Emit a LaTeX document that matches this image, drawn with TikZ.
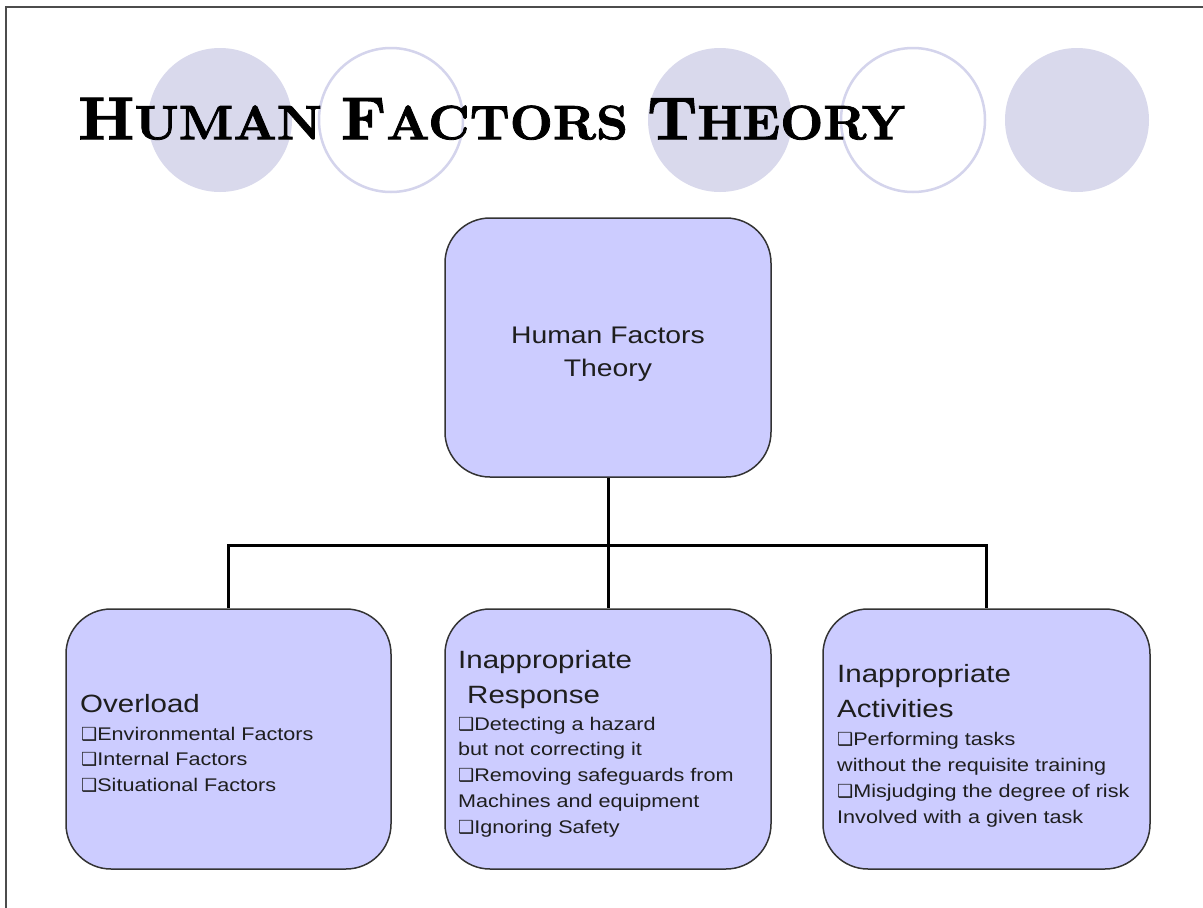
\documentclass[tikz,border=0pt]{standalone}
\usepackage{fontspec}
\usepackage{graphicx}
\newfontfamily\boxfont[FakeStretch=1.18]{Liberation Sans}
\newfontfamily\dejavu{DejaVu Sans}
\newfontfamily\titlefont[FakeBold=1.6]{lmroman10-bold.otf}
\definecolor{boxfill}{RGB}{204,204,255}
\definecolor{circfill}{RGB}{217,217,236}
\definecolor{circline}{RGB}{212,212,236}
\definecolor{txtcol}{RGB}{30,30,30}
\newcommand{\bul}{{\dejavu\fontsize{18}{18}\selectfont ❑}}
\tikzset{
  box/.style={draw=black!80, line width=1.5pt, fill=boxfill, rounded corners=45pt, inner sep=0pt},
  conn/.style={line width=3pt, black},
  txt/.style={inner sep=0pt, text=txtcol, font=\boxfont},
  frame/.style={line width=1.5pt, black!70},
  fcirc/.style={fill=circfill},
  ocirc/.style={draw=circline, line width=2.5pt, fill=white}
}
\begin{document}
\begin{tikzpicture}[x=1pt,y=-1pt]
\useasboundingbox (0,0) rectangle (1203,908);
\fill[white] (0,0) rectangle (1203,908);
\draw[frame] (6,908) -- (6,7) -- (1203,7);
% decorative circles
\fill[fcirc] (220,120) circle (72pt);
\draw[ocirc] (391,120) circle (72pt);
\fill[fcirc] (720,120) circle (72pt);
\draw[ocirc] (913,120) circle (72pt);
\fill[fcirc] (1077,120) circle (72pt);
% title
\node[anchor=south west, inner sep=0pt] (title) at (78,140)
  {\resizebox*{827pt}{42pt}{\titlefont{\fontsize{50}{50}\selectfont H}{\fontsize{40}{40}\selectfont UMAN }{\fontsize{50}{50}\selectfont F}{\fontsize{40}{40}\selectfont ACTORS }{\fontsize{50}{50}\selectfont T}{\fontsize{40}{40}\selectfont HEORY}}};
% boxes
\node[box, minimum width=326pt, minimum height=259pt] (top) at (608,347.5) {};
\node[box, minimum width=325pt, minimum height=260pt] (b1) at (228.5,739) {};
\node[box, minimum width=326pt, minimum height=260pt] (b2) at (608,739) {};
\node[box, minimum width=327pt, minimum height=260pt] (b3) at (986.5,739) {};
% connectors
\coordinate (bus) at (608,545);
\draw[conn] (top.south) -- (top.south |- bus);
\draw[conn] (b1.north) |- (b3.north |- bus) -- (b3.north);
\draw[conn] (top.south |- bus) -- (b2.north);
% texts
\node[txt, anchor=base] (toplabel) at (608,343)
  {\fontsize{24}{33}\selectfont\begin{tabular}[t]{@{}c@{}}Human Factors\\Theory\end{tabular}};
\node[txt, anchor=base west] (b1h) at (80,712) {\fontsize{25}{35}\selectfont Overload};
\node[txt, anchor=base west] (b1l) at (81,740)
  {\fontsize{18.3}{25.5}\selectfont\begin{tabular}[t]{@{}l@{}}\bul Environmental Factors\\\bul Internal Factors\\\bul Situational Factors\end{tabular}};
\node[txt, anchor=base west] (b2h) at (458,668)
  {\fontsize{25}{35}\selectfont\begin{tabular}[t]{@{}l@{}}Inappropriate\\\hspace{9pt}Response\end{tabular}};
\node[txt, anchor=base west] (b2l) at (458,730)
  {\fontsize{18.3}{25.8}\selectfont\begin{tabular}[t]{@{}l@{}}\bul Detecting a hazard\\but not correcting it\\\bul Removing safeguards from\\Machines and equipment\\\bul Ignoring Safety\end{tabular}};
\node[txt, anchor=base west] (b3h) at (837,682)
  {\fontsize{25}{35}\selectfont\begin{tabular}[t]{@{}l@{}}Inappropriate\\Activities\end{tabular}};
\node[txt, anchor=base west] (b3l) at (837,745)
  {\fontsize{18.3}{26}\selectfont\begin{tabular}[t]{@{}l@{}}\bul Performing tasks\\without the requisite training\\\bul Misjudging the degree of risk\\Involved with a given task\end{tabular}};
\end{tikzpicture}
\end{document}
